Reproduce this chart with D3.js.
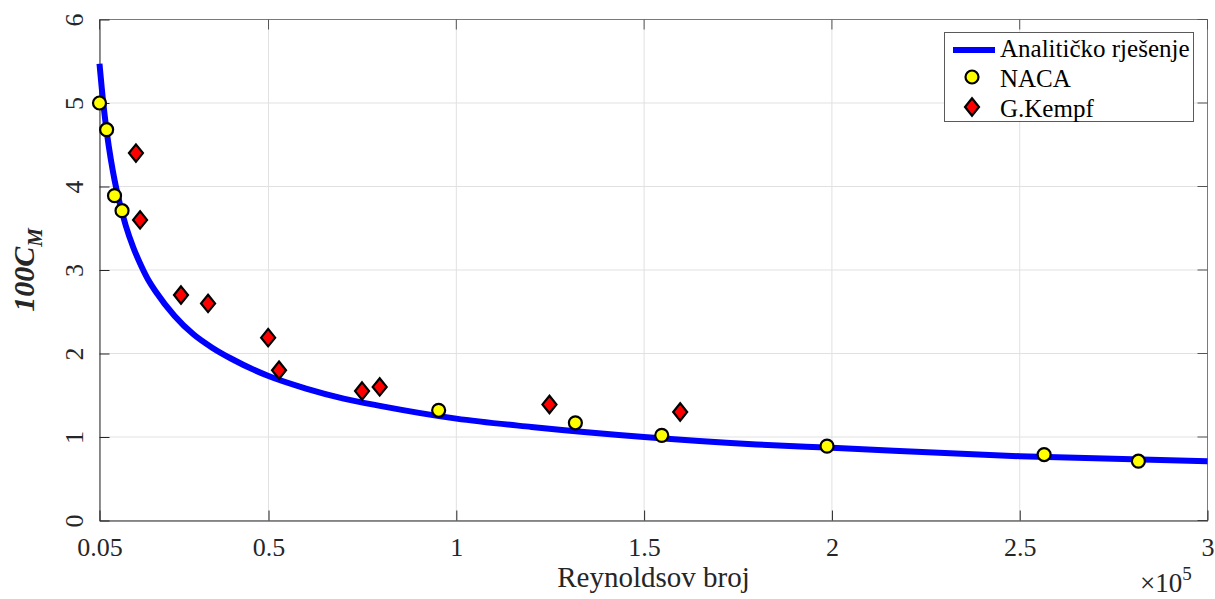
<!DOCTYPE html>
<html><head><meta charset="utf-8">
<script src="https://cdn.jsdelivr.net/npm/d3@7"></script>
<style>body{margin:0;background:#fff;} svg{display:block;}</style>
</head><body>
<svg id="c" width="1215" height="599" font-family="'Liberation Serif', 'Times New Roman', 'DejaVu Serif', serif"></svg>
<script>
// Data (x in units of 10^5)
const curveX = [0.05,0.06,0.07,0.08,0.09,0.10,0.12,0.14,0.16,0.18,0.20,0.25,0.30,0.35,0.40,0.50,0.60,0.70,0.80,1.00,1.20,1.50,1.80,2.00,2.50,3.00];
const curveY = [5.47,5.00,4.63,4.33,4.08,3.87,3.53,3.27,3.06,2.88,2.74,2.45,2.23,2.07,1.94,1.73,1.58,1.46,1.37,1.22,1.12,1.00,0.91,0.87,0.77,0.71];
const nacaX = [0.05,0.069,0.09,0.11,0.953,1.317,1.547,1.987,2.565,2.816];
const nacaY = [5.00,4.68,3.89,3.71,1.32,1.17,1.02,0.89,0.79,0.71];
const kempfX = [0.147,0.158,0.267,0.339,0.499,0.528,0.749,0.796,1.248,1.596];
const kempfY = [4.40,3.60,2.70,2.60,2.19,1.80,1.55,1.60,1.39,1.30];
const xTicks = [0.05,0.5,1,1.5,2,2.5,3];
const xTickLabels = ["0.05","0.5","1","1.5","2","2.5","3"];
const yTicks = [0,1,2,3,4,5,6];
const yTickLabels = ["0","1","2","3","4","5","6"];
const legendLabels = ["Analitičko rješenje","NACA","G.Kempf"];

const FONT = "'Liberation Serif', 'Times New Roman', 'DejaVu Serif', serif";
const svg = d3.select("#c");
const L=99.5, R=1207.5, T=19.5, B=520.5;
const x = d3.scaleLinear().domain([0.05,3]).range([L,R]);
const y = d3.scaleLinear().domain([0,6]).range([B,T]);
const axisCol="#262626";

// grid
const g = svg.append("g");
g.selectAll(".vg").data(xTicks).join("line").attr("x1",d=>x(d)).attr("x2",d=>x(d)).attr("y1",T).attr("y2",B).attr("stroke","#e1e1e1").attr("stroke-width",1);
g.selectAll(".hg").data(yTicks).join("line").attr("y1",d=>y(d)).attr("y2",d=>y(d)).attr("x1",L).attr("x2",R).attr("stroke","#e1e1e1").attr("stroke-width",1);

// box and inner ticks
const tl = 10;
svg.append("line").attr("x1",L).attr("x2",R).attr("y1",T).attr("y2",T).attr("stroke","#7a7a7a");
svg.append("line").attr("x1",R).attr("x2",R).attr("y1",T).attr("y2",B).attr("stroke","#7a7a7a");
svg.selectAll(".tt").data(xTicks).join("line").attr("x1",d=>x(d)).attr("x2",d=>x(d)).attr("y1",T).attr("y2",T+tl).attr("stroke","#555");
svg.selectAll(".rt").data(yTicks).join("line").attr("y1",d=>y(d)).attr("y2",d=>y(d)).attr("x1",R).attr("x2",R-tl).attr("stroke","#555");

const xAxis = d3.axisBottom(x).tickValues(xTicks).tickFormat((d,i)=>xTickLabels[i]).tickSizeInner(-tl).tickSizeOuter(0);
const xa = svg.append("g").attr("transform",`translate(0,${B})`).call(xAxis).attr("font-family",FONT);
xa.select(".domain").attr("stroke",axisCol);
xa.selectAll(".tick line").attr("stroke",axisCol);
xa.selectAll("text").attr("font-family",FONT).attr("font-size",26).attr("fill",axisCol).attr("dy",0).attr("y",35);

const yAxis = d3.axisLeft(y).tickValues(yTicks).tickFormat((d,i)=>yTickLabels[i]).tickSizeInner(-tl).tickSizeOuter(0);
const ya = svg.append("g").attr("transform",`translate(${L},0)`).call(yAxis).attr("font-family",FONT);
ya.select(".domain").attr("stroke",axisCol);
ya.selectAll(".tick line").attr("stroke",axisCol);
ya.selectAll("text").attr("font-family",FONT).attr("font-size",26).attr("fill",axisCol)
  .attr("x",null).attr("dy",null).attr("text-anchor","middle").attr("transform","translate(-17,0) rotate(-90)");

// curve
const pts = curveX.map((d,i)=>[d,curveY[i]]);
const line = d3.line().x(d=>x(d[0])).y(d=>y(d[1])).curve(d3.curveMonotoneX);
svg.append("path").datum(pts).attr("d",line).attr("fill","none").attr("stroke","#0000ff").attr("stroke-width",6);

// markers
const diamond = (cx,cy)=>`M${cx},${cy-8.7}L${cx+7},${cy}L${cx},${cy+8.7}L${cx-7},${cy}Z`;
svg.selectAll(".naca").data(nacaX.map((d,i)=>[d,nacaY[i]])).join("circle")
  .attr("cx",d=>x(d[0])).attr("cy",d=>y(d[1])).attr("r",6.5).attr("fill","#ffff00").attr("stroke","#000").attr("stroke-width",2.2);
svg.selectAll(".kempf").data(kempfX.map((d,i)=>[d,kempfY[i]])).join("path")
  .attr("d",d=>diamond(x(d[0]),y(d[1]))).attr("fill","#ff0000").attr("stroke","#000").attr("stroke-width",2.2).attr("stroke-linejoin","miter");

// axis labels
svg.append("text").attr("font-family",FONT).attr("x",(L+R)/2).attr("y",587).attr("text-anchor","middle").attr("font-size",29).attr("fill",axisCol).text("Reynoldsov broj");
const ex = svg.append("text").attr("font-family",FONT).attr("x",1140).attr("y",592).attr("font-size",27).attr("fill",axisCol);
ex.append("tspan").text("×10");
ex.append("tspan").attr("font-size",19).attr("dy",-12).text("5");

const yl = svg.append("text").attr("font-family",FONT).attr("transform",`translate(34,${(T+B)/2}) rotate(-90)`).attr("text-anchor","middle")
  .attr("font-weight","bold").attr("font-style","italic").attr("fill","#262626");
yl.append("tspan").attr("font-size",30).text("100C");
yl.append("tspan").attr("font-size",21).attr("dy",8).text("M");

// legend
const lg = svg.append("g");
lg.append("rect").attr("x",944.5).attr("y",32.5).attr("width",249).attr("height",89).attr("fill","#fff").attr("stroke","#5a5a5a").attr("stroke-width",1);
lg.append("line").attr("x1",953).attr("x2",995).attr("y1",50).attr("y2",50).attr("stroke","#0000ff").attr("stroke-width",6);
lg.append("circle").attr("cx",972).attr("cy",77).attr("r",6.5).attr("fill","#ffff00").attr("stroke","#000").attr("stroke-width",2.2);
lg.append("path").attr("d",diamond(972,107)).attr("fill","#ff0000").attr("stroke","#000").attr("stroke-width",2.2);
lg.selectAll(".lt").data(legendLabels).join("text").attr("font-family",FONT).attr("x",1000).attr("y",(d,i)=>57+i*30).attr("font-size",25).attr("fill","#000").text(d=>d);
</script>
</body></html>
